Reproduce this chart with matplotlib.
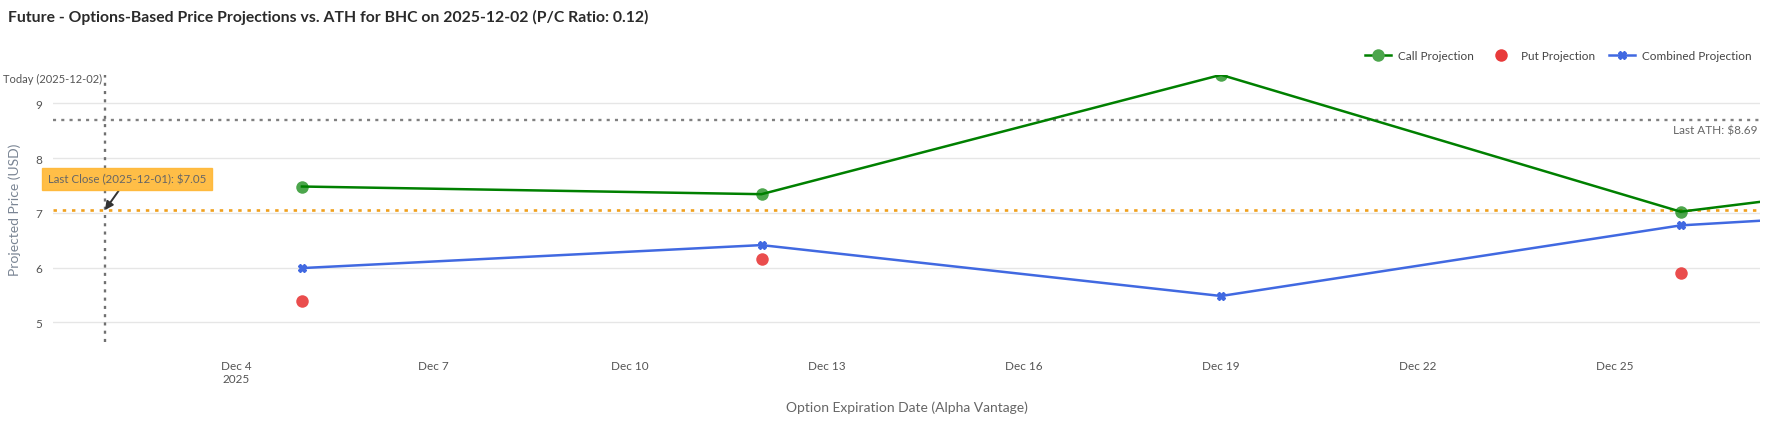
import numpy as np
import pandas as pd
import matplotlib
matplotlib.use('Agg')
import matplotlib.pyplot as plt

# data
exp_dates = ['2025-12-05', '2025-12-12', '2025-12-19', '2025-12-26', '2026-01-02']
call_proj = [7.48, 7.34, 9.52, 7.02, 8.06]
put_proj = [5.38, 6.16, np.nan, 5.90, np.nan]
combined_proj = [5.99, 6.41, 5.48, 6.77, 7.26]

today = '2025-12-02'
last_close = 7.05
last_close_date = '2025-12-01'
last_ath = 8.69
ticker = 'BHC'
pc_ratio = 0.12

plt.rcParams['font.family'] = ['Lato', 'DejaVu Sans']

x = pd.to_datetime(exp_dates)
t = pd.Timestamp(today)
dot = (0, (1.3, 2.2))

fig = plt.figure(figsize=(17.66, 4.27), dpi=100)
ax = fig.add_axes([0.030, 0.1974, 0.9666, 0.6246])

ax.plot(x, call_proj, color='green', lw=1.8, zorder=3)
ax.plot(x, call_proj, 'o', color='green', alpha=0.7, ms=9, mec='none', zorder=4)
ax.plot(x, put_proj, 'o', color='#e83a3a', alpha=0.9, ms=9, mec='none', zorder=4)
ax.plot(x, combined_proj, color='royalblue', lw=1.8, marker='X', ms=6, mec='royalblue', zorder=4)

# legend proxies
h1, = ax.plot([], [], color='green', lw=1.8, marker='o', ms=9, mfc=(0.3, 0.65, 0.3), mec='none')
h2, = ax.plot([], [], ls='none', marker='o', ms=9, color='#e83a3a', mec='none')
h3, = ax.plot([], [], color='royalblue', lw=1.8, marker='X', ms=6)
leg = fig.legend([h1, h2, h3], ['Call Projection', 'Put Projection', 'Combined Projection'],
                 loc='center right', bbox_to_anchor=(0.998, 0.868), ncol=3, frameon=False,
                 fontsize=8.5, handlelength=2.2, columnspacing=1.2, handletextpad=0.6,
                 labelcolor='#444444')

ax.axhline(last_ath, color='#808080', lw=1.7, ls=dot, zorder=2)
ax.axhline(last_close, color='#f0a01e', lw=1.9, ls=dot, zorder=2)
ax.axvline(t, color='#707070', lw=1.7, ls=dot, zorder=2)

ax.text(t - pd.Timedelta(hours=1), 9.46, f'Today ({today})', ha='right', va='center',
        fontsize=8, color='#555555')
ax.text(0.9985, last_ath - 0.08, f'Last ATH: ${last_ath:.2f}', transform=ax.get_yaxis_transform(),
        ha='right', va='top', fontsize=8.5, color='#666666')

ax.annotate(f'Last Close ({last_close_date}): ${last_close:.2f}', xy=(t, last_close),
            xytext=(22, 31), textcoords='offset pixels', ha='center', va='center',
            fontsize=8.3, color='#666666',
            bbox=dict(boxstyle='square,pad=0.5', fc='#ffb733', ec='#ffb733', alpha=0.9),
            arrowprops=dict(arrowstyle='-|>', color='#333333', lw=1.4, shrinkA=0, shrinkB=0,
                            mutation_scale=12),
            zorder=6)

ax.set_xlim(pd.Timestamp('2025-12-01 05:00'), pd.Timestamp('2025-12-27 05:00'))
ax.set_ylim(4.645, 9.517)
ax.set_yticks([5, 6, 7, 8, 9])
ax.grid(axis='y', color='#e6e6e6', lw=1)
ax.set_axisbelow(True)

ticks = pd.date_range('2025-12-04', '2025-12-25', freq='3D')
ax.set_xticks(ticks)
ax.set_xticklabels([f'Dec {d.day}\n2025' if i == 0 else f'Dec {d.day}' for i, d in enumerate(ticks)])

for s in ax.spines.values():
    s.set_visible(False)
ax.tick_params(length=0, labelsize=8.5, colors='#555555')
ax.tick_params(axis='x', pad=13)
ax.tick_params(axis='y', pad=8)

ax.set_xlabel('Option Expiration Date (Alpha Vantage)', fontsize=10, color='#666666', labelpad=12)
ax.set_ylabel('Projected Price (USD)', fontsize=10, color='#7a8594', labelpad=10)

fig.text(0.0045, 0.958, f'Future - Options-Based Price Projections vs. ATH for {ticker} on {today} (P/C Ratio: {pc_ratio:.2f})',
         fontsize=11.3, fontweight='bold', color='#2a2a2a', ha='left', va='center')

fig.savefig('out.png', dpi=100, facecolor='white')
